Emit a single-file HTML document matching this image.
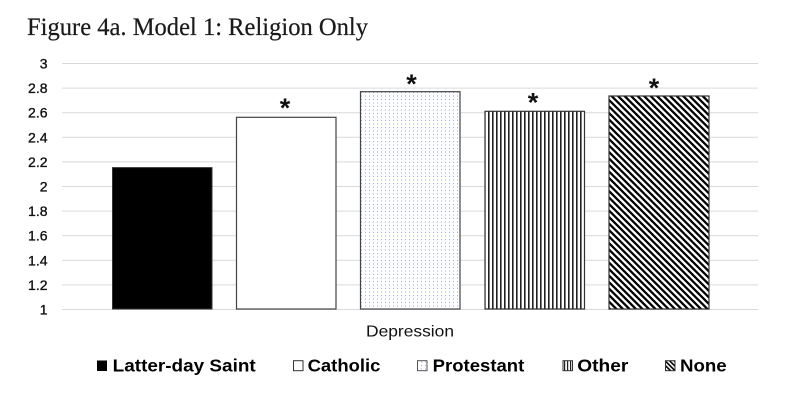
<!DOCTYPE html>
<html>
<head>
<meta charset="utf-8">
<style>
  html, body { margin:0; padding:0; background:#fff; }
  svg { display:block; }
</style>
</head>
<body>
<svg width="800" height="404" viewBox="0 0 800 404" xmlns="http://www.w3.org/2000/svg">
  <defs>
    <pattern id="dots" width="4" height="3.5" patternUnits="userSpaceOnUse">
      <rect width="4" height="3.5" fill="#ffffff"/>
      <rect x="1" y="1" width="1" height="1" fill="#9aaae2"/>
    </pattern>
    <pattern id="vlines" width="4" height="4" patternUnits="userSpaceOnUse">
      <rect width="4" height="4" fill="#ffffff"/>
      <rect x="0" y="0" width="1.6" height="4" fill="#222"/>
    </pattern>
    <pattern id="diag" width="4.6" height="4.6" patternUnits="userSpaceOnUse" patternTransform="rotate(-45)">
      <rect width="4.6" height="4.6" fill="#ffffff"/>
      <rect x="0" y="0" width="2.3" height="4.6" fill="#000"/>
    </pattern>
    <pattern id="vlinesS" width="3" height="3" patternUnits="userSpaceOnUse">
      <rect width="3" height="3" fill="#ffffff"/>
      <rect x="0" y="0" width="1.2" height="3" fill="#222"/>
    </pattern>
    <pattern id="diagS" width="3.2" height="3.2" patternUnits="userSpaceOnUse" patternTransform="rotate(-45)">
      <rect width="3.2" height="3.2" fill="#ffffff"/>
      <rect x="0" y="0" width="1.6" height="3.2" fill="#000"/>
    </pattern>
  </defs>

  <!-- Title -->
  <text x="27" y="35" font-family="'Liberation Serif', serif" font-size="25" fill="#1a1a1a" stroke="#1a1a1a" stroke-width="0.2" textLength="341" lengthAdjust="spacingAndGlyphs">Figure 4a. Model 1: Religion Only</text>

  <!-- Gridlines -->
  <g stroke="#d9d9d9" stroke-width="1">
    <line x1="62" x2="758" y1="63.5" y2="63.5"/>
    <line x1="62" x2="758" y1="88.1" y2="88.1"/>
    <line x1="62" x2="758" y1="112.7" y2="112.7"/>
    <line x1="62" x2="758" y1="137.3" y2="137.3"/>
    <line x1="62" x2="758" y1="161.9" y2="161.9"/>
    <line x1="62" x2="758" y1="186.5" y2="186.5"/>
    <line x1="62" x2="758" y1="211.1" y2="211.1"/>
    <line x1="62" x2="758" y1="235.7" y2="235.7"/>
    <line x1="62" x2="758" y1="260.3" y2="260.3"/>
    <line x1="62" x2="758" y1="284.9" y2="284.9"/>
    <line x1="62" x2="758" y1="309.5" y2="309.5"/>
  </g>

  <!-- Y labels -->
  <g font-family="'Liberation Sans', sans-serif" font-size="14" fill="#111" stroke="#111" stroke-width="0.35" text-anchor="end">
    <text x="47.5" y="68.5">3</text>
    <text x="47.5" y="93.1">2.8</text>
    <text x="47.5" y="117.7">2.6</text>
    <text x="47.5" y="142.3">2.4</text>
    <text x="47.5" y="166.9">2.2</text>
    <text x="47.5" y="191.5">2</text>
    <text x="47.5" y="216.1">1.8</text>
    <text x="47.5" y="240.7">1.6</text>
    <text x="47.5" y="265.3">1.4</text>
    <text x="47.5" y="289.9">1.2</text>
    <text x="47.5" y="314.5">1</text>
  </g>

  <!-- Bars -->
  <rect x="112.5" y="167.6" width="99.5" height="141.4" fill="#000" stroke="#333" stroke-width="1"/>
  <rect x="236.5" y="117.3" width="99.5" height="191.7" fill="#fff" stroke="#444" stroke-width="1.2"/>
  <rect x="360.5" y="91.7" width="99.5" height="217.3" fill="url(#dots)" stroke="#444" stroke-width="1.2"/>
  <rect x="485" y="111.3" width="99.5" height="197.7" fill="url(#vlines)" stroke="#333" stroke-width="1.2"/>
  <rect x="609" y="96" width="100" height="213" fill="url(#diag)" stroke="#333" stroke-width="1.2"/>

  <!-- Asterisks -->
  <g font-family="'Liberation Sans', sans-serif" font-size="27" font-weight="bold" fill="#111" text-anchor="middle">
    <text x="285" y="117">*</text>
    <text x="411.5" y="93">*</text>
    <text x="533" y="111.5">*</text>
    <text x="654" y="97">*</text>
  </g>

  <!-- X category label -->
  <text x="410" y="336.5" font-family="'Liberation Sans', sans-serif" font-size="16" fill="#111" text-anchor="middle" textLength="88" lengthAdjust="spacingAndGlyphs">Depression</text>

  <!-- Legend -->
  <g font-family="'Liberation Sans', sans-serif" font-size="17.5" font-weight="bold" fill="#000">
    <rect x="97" y="360.5" width="10" height="10.5" fill="#000"/>
    <text x="112.7" y="371.7" textLength="143" lengthAdjust="spacingAndGlyphs">Latter-day Saint</text>

    <rect x="293.5" y="360.7" width="9.5" height="10" fill="#fff" stroke="#333" stroke-width="1"/>
    <text x="307.6" y="371.7" textLength="72.8" lengthAdjust="spacingAndGlyphs">Catholic</text>

    <rect x="417.5" y="360.7" width="9.5" height="10" fill="url(#dots)" stroke="#555" stroke-width="1"/>
    <text x="432.7" y="371.7" textLength="91.6" lengthAdjust="spacingAndGlyphs">Protestant</text>

    <rect x="563" y="360.7" width="9.5" height="10" fill="url(#vlinesS)" stroke="#333" stroke-width="1"/>
    <text x="577.3" y="371.7" textLength="51" lengthAdjust="spacingAndGlyphs">Other</text>

    <rect x="665.5" y="360.7" width="9.5" height="10" fill="url(#diagS)" stroke="#333" stroke-width="1"/>
    <text x="680" y="371.7" textLength="46.7" lengthAdjust="spacingAndGlyphs">None</text>
  </g>
</svg>
</body>
</html>
